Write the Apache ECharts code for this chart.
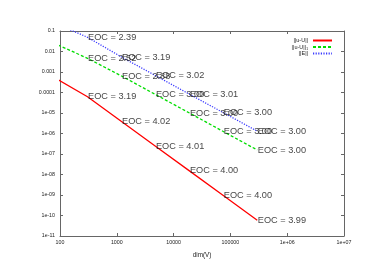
<!DOCTYPE html>
<html><head><meta charset="utf-8">
<script src="https://cdn.jsdelivr.net/npm/echarts@6/dist/echarts.min.js"></script>
<style>html,body{margin:0;padding:0;background:#fff}#c{width:390px;height:276px}</style>
</head><body><div id="c"></div>
<script>
const dims = [77, 305, 1210, 4800, 19000, 75000, 297000];
const errL2 = [5.7e-4, 6.24e-5, 3.85e-6, 2.4e-7, 1.5e-8, 9.4e-10, 5.9e-11];
const errH1 = [0.026, 0.00466, 6.38e-4, 7.98e-5, 1.0e-5, 1.25e-6, 1.57e-7];
const errE = [0.257, 0.0493, 0.0054, 6.67e-4, 8.26e-5, 1.04e-5, 1.29e-6];
const eocL2 = [null, '3.19', '4.02', '4.01', '4.00', '4.00', '3.99'];
const eocH1 = [null, '2.52', '2.88', '3.00', '3.00', '3.00', '3.00'];
const eocE = [null, '2.39', '3.19', '3.02', '3.01', '3.00', '3.00'];
const seriesNames = ['||u-U||', '||u-U||\u2081', '||E||'];
const xTickLabels = ['100', '1000', '10000', '100000', '1e+06', '1e+07'];
const yTickLabels = ['0.1', '0.01', '0.001', '0.0001', '1e-05', '1e-06', '1e-07', '1e-08', '1e-09', '1e-10', '1e-11'];
const xName = 'dim(V)';

const FONT = 'Liberation Sans';
const colors = ['#ff0000', '#00dd00', '#3b3bff'];
const lineTypes = ['solid', [3, 2], [1.2, 1.4]];
const errs = [errL2, errH1, errE];
const eocs = [eocL2, eocH1, eocE];

const chart = echarts.init(document.getElementById('c'), null, {renderer: 'canvas'});
const series = [];
errs.forEach((e, k) => {
  series.push({
    name: seriesNames[k], type: 'line', xAxisIndex: 0, yAxisIndex: 0,
    symbol: 'none', showSymbol: false, clip: true, z: 2 + k,
    lineStyle: {color: colors[k], width: 1.3, type: lineTypes[k]},
    itemStyle: {color: colors[k]},
    data: dims.map((d, i) => [d, e[i]])
  });
});
errs.forEach((e, k) => {
  const pts = [];
  dims.forEach((d, i) => { if (eocs[k][i] !== null) pts.push([d, e[i], eocs[k][i]]); });
  series.push({
    type: 'scatter', xAxisIndex: 0, yAxisIndex: 0, symbolSize: 1, z: 10,
    itemStyle: {color: 'rgba(0,0,0,0)'}, silent: true,
    label: {show: true, position: 'right', distance: 0, color: '#111',
      fontFamily: FONT, fontSize: 9.2,
      formatter: p => 'EOC = ' + p.value[2]},
    data: pts
  });
});

const axisLineStyle = {color: '#666', width: 1};
const xFmt = v => xTickLabels[Math.round(Math.log10(v)) - 2];
const yFmt = v => yTickLabels[-1 - Math.round(Math.log10(v))];
chart.setOption({
  animation: false,
  backgroundColor: '#fff',
  grid: {left: 60, right: 46, top: 31, bottom: 40, containLabel: false},
  legend: {
    data: seriesNames, orient: 'vertical', right: 52, top: 32.5,
    align: 'right', itemWidth: 19, itemHeight: 7, itemGap: 0.5,
    itemStyle: {opacity: 0},
    textStyle: {fontFamily: FONT, fontSize: 5.5, color: '#222'},
    selectedMode: false
  },
  xAxis: [
    {type: 'log', logBase: 10, min: 100, max: 1e7, interval: 1, position: 'bottom',
     name: xName, nameLocation: 'middle', nameGap: 16,
     nameTextStyle: {fontFamily: FONT, fontSize: 6.3, color: '#222'},
     axisLine: {show: true, lineStyle: axisLineStyle},
     axisTick: {show: true, inside: true, length: 3, lineStyle: axisLineStyle},
     axisLabel: {show: true, margin: 4, fontFamily: FONT, fontSize: 5.3, color: '#222', formatter: xFmt},
     splitLine: {show: false}},
    {type: 'log', logBase: 10, min: 100, max: 1e7, interval: 1, position: 'top',
     axisLine: {show: true, lineStyle: axisLineStyle},
     axisTick: {show: true, inside: true, length: 3, lineStyle: axisLineStyle},
     axisLabel: {show: false}, splitLine: {show: false}}
  ],
  yAxis: [
    {type: 'log', logBase: 10, min: 1e-11, max: 0.1, interval: 1, position: 'left',
     axisLine: {show: true, lineStyle: axisLineStyle},
     axisTick: {show: true, inside: true, length: 3, lineStyle: axisLineStyle},
     axisLabel: {show: true, margin: 5, fontFamily: FONT, fontSize: 5.3, color: '#222', formatter: yFmt},
     splitLine: {show: false}},
    {type: 'log', logBase: 10, min: 1e-11, max: 0.1, interval: 1, position: 'right',
     axisLine: {show: true, lineStyle: axisLineStyle},
     axisTick: {show: true, inside: true, length: 3, lineStyle: axisLineStyle},
     axisLabel: {show: false}, splitLine: {show: false}}
  ],
  series: series
});
</script></body></html>
